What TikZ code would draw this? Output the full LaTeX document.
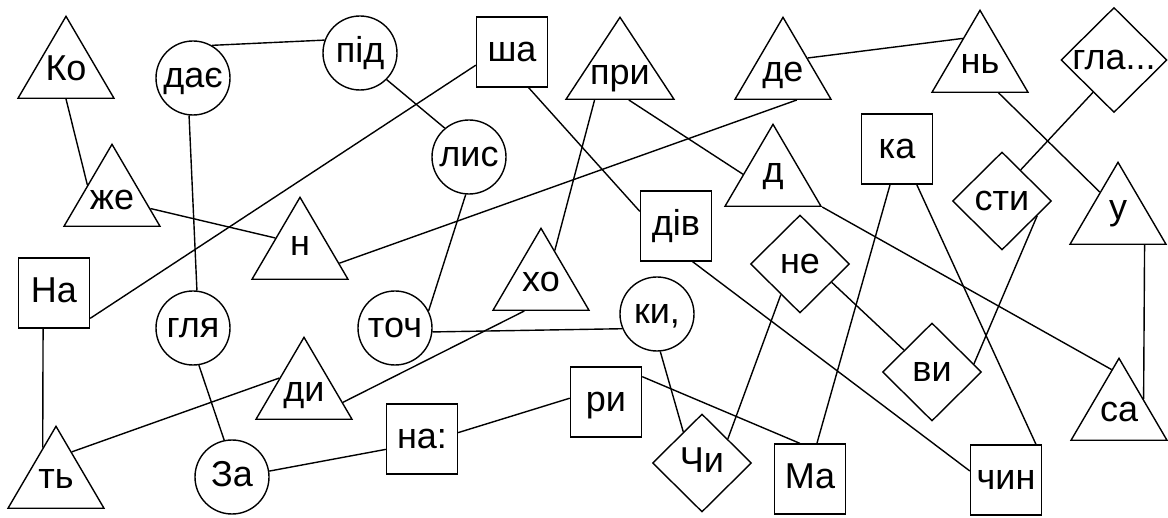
\documentclass[tikz,border=0pt]{standalone}
\usepackage{fontspec}
\setmainfont{Liberation Sans}
\usetikzlibrary{shapes.geometric, calc}

\begin{document}
\begin{tikzpicture}[x=1pt, y=-1pt, line width=1.4pt,
	every node/.style={draw, inner sep=0pt, font=\fontsize{36}{40}\selectfont, text height=19pt, text depth=0pt},
	tri/.style={isosceles triangle, shape border rotate=90, isosceles triangle apex angle=66, isosceles triangle stretches, minimum width=96pt, minimum height=82pt, text depth=13pt, anchor=lower side},
	ring/.style={circle, minimum size=74pt},
	box/.style={rectangle, minimum width=71pt, minimum height=70pt},
	rhomb/.style={diamond, minimum width=99pt, minimum height=98pt}]
	\useasboundingbox (0,0) rectangle (1168,518);
	% triangles
	\node[tri]	(ko)	at (66,99)		{Ко};
	\node[tri]	(zhe)	at (112,227)	{же};
	\node[tri]	(n)		at (300,280)	{н};
	\node[tri, minimum width=108pt]	(pry)	at (620,100)	{при};
	\node[tri]	(de)	at (783,100)	{де};
	\node[tri]	(nj)	at (980,93)		{нь};
	\node[tri]	(d)		at (773,207)	{д};
	\node[tri]	(u)		at (1118,245)	{у};
	\node[tri]	(kho)	at (541,311)	{хо};
	\node[tri]	(dy)	at (304,420)	{ди};
	\node[tri]	(tj)	at (56,509)		{ть};
	\node[tri]	(sa)	at (1119,441)	{са};
	% circles
	\node[ring]	(dae)	at (193,78)		{дає};
	\node[ring]	(pid)	at (360,53)		{під};
	\node[ring]	(lys)	at (469,157)	{лис};
	\node[ring]	(hlja)	at (193,328)	{гля};
	\node[ring]	(toch)	at (395,328)	{точ};
	\node[ring]	(za)	at (232,477)	{За};
	\node[ring]	(ky)	at (657,314)	{ки,};
	% squares
	\node[box]	(sha)	at (512,52)		{ша};
	\node[box]	(div)	at (676,226)	{дів};
	\node[box]	(ka)	at (897,149)	{ка};
	\node[box]	(Na)	at (54,293)		{На};
	\node[box]	(na)	at (422,439)	{на:};
	\node[box]	(ry)	at (606,402)	{ри};
	\node[box]	(Ma)	at (810,479)	{Ма};
	\node[box]	(chyn)	at (1006,480)	{чин};
	% diamonds
	\node[rhomb, minimum width=106pt, minimum height=105pt]	(hla)	at (1114,60)	{гла...};
	\node[rhomb]	(sty)	at (1002,201)	{сти};
	\node[rhomb]	(ne)	at (800,264)	{не};
	\node[rhomb]	(vy)	at (932,372)	{ви};
	\node[rhomb]	(chy)	at (702,463)	{Чи};
	\path	(ko.lower side) edge (zhe.left side)
			(dae.60) edge (pid.160)
			(pid.-45) edge (lys.130)
			(sha.200) edge (Na.-35)
			(sha.-65) edge (div.158)
			($(zhe.apex)!.78!(zhe.right corner)$) edge (n.left side)
			($(n.apex)!.8!(n.right corner)$) edge ($(de.left corner)!.64!(de.right corner)$)
			(dae.-96) edge (hlja.84)
			(lys.-95) edge (toch.27)
			($(pry.left corner)!.27!(pry.right corner)$) edge ($(kho.apex)!.28!(kho.right corner)$)
			($(pry.left corner)!.58!(pry.right corner)$) edge ($(d.left corner)!.39!(d.apex)$)
			(de.right side) edge ($(nj.left corner)!.65!(nj.apex)$)
			($(nj.left corner)!.69!(nj.right corner)$) edge ($(u.left corner)!.63!(u.apex)$)
			(hla.237) edge (sty.59)
			(sty.-23) edge (vy.11)
			(ka.-101) edge (Ma.79)
			(ka.-61) edge (chyn.50)
			(d.right corner) edge ($(sa.left corner)!.85!(sa.apex)$)
			($(u.left corner)!.77!(u.right corner)$) edge (sa.right side)
			(Na.-107) edge ($(tj.left corner)!.73!(tj.apex)$)
			(hlja.-81) edge (za.102)
			(dy.left side) edge ($(tj.apex)!.32!(tj.right corner)$)
			($(kho.left corner)!.33!(kho.right corner)$) edge ($(dy.apex)!.79!(dy.right corner)$)
			(toch.-6) edge (ky.203)
			(ky.-85) edge (chy.121)
			(ne.238) edge (chy.43)
			(ne.-30) edge (vy.142)
			(div.-65) edge (chyn.166)
			(ry.35) edge (Ma.106)
			(za.9) edge (na.196)
			(na.10) edge (ry.174);
\end{tikzpicture}
\end{document}
